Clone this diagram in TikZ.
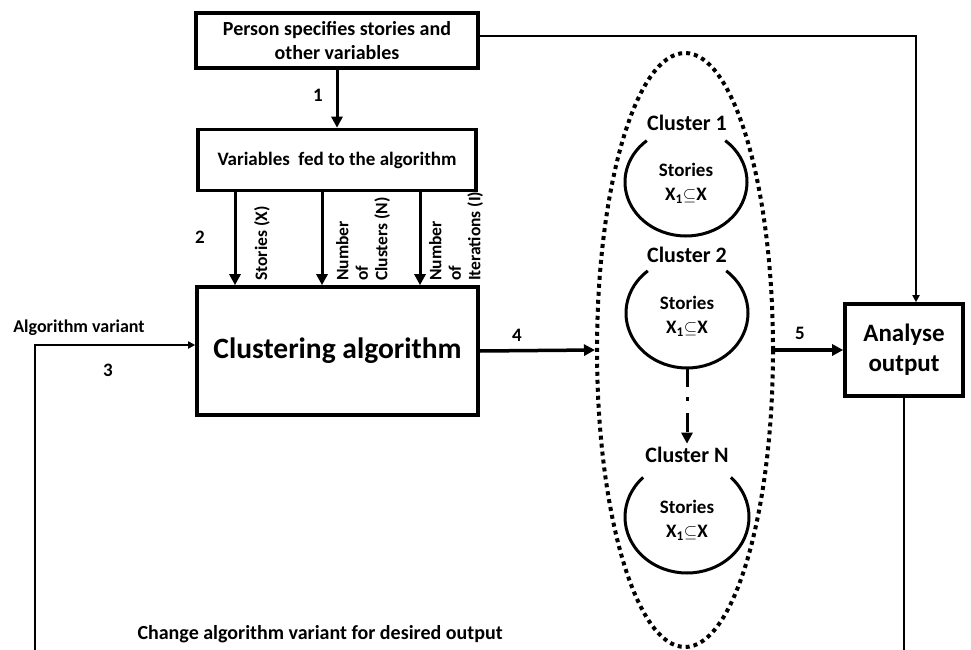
\documentclass[tikz,border=0pt]{standalone}
\usepackage{fontspec}
\setmainfont{Carlito}
\usetikzlibrary{arrows.meta,shapes.geometric,calc}
\begin{document}
\begin{tikzpicture}[x=1pt,y=-1pt,
  font=\bfseries,
  box/.style={draw,line width=3.6pt,fill=white,align=center,inner sep=2pt},
  bigarrow/.style={line width=3pt,-{Triangle[length=11pt,width=11pt]}},
  thinarrow/.style={line width=2pt,-{Triangle[length=7pt,width=7pt]}},
  num/.style={font=\bfseries\fontsize{19}{21}\selectfont},
  vlabel/.style={rotate=90,anchor=west,align=left,inner sep=0pt,
    font=\bfseries\fontsize{17.5}{19.5}\selectfont},
  ring/.style={line width=3pt},
  ctitle/.style={font=\bfseries\fontsize{22}{24}\selectfont},
  ctext/.style={align=center,font=\bfseries\fontsize{19}{24}\selectfont}]
\path[use as bounding box] (0,0) rectangle (971,650);

% main boxes
\node[box,minimum width=282,minimum height=55,font=\bfseries\fontsize{20}{24}\selectfont]
  (person) at (337,40.5) {Person specifies stories and\\other variables};
\node[box,minimum width=278,minimum height=61,font=\bfseries\fontsize{19}{22}\selectfont]
  (vars) at (337,160) {Variables~~fed to the algorithm};
\node[box,minimum width=281,minimum height=128,font=\bfseries\fontsize{29.5}{34}\selectfont]
  (clus) at (337.5,351) {Clustering algorithm};
\node[box,minimum width=118,minimum height=92,font=\bfseries\fontsize{25}{30}\selectfont]
  (analyse) at (904,350) {Analyse\\output};

% dotted group of clusters
\node[ellipse,draw,line width=4pt,dash pattern=on 4pt off 4pt,
  minimum width=176,minimum height=594,inner sep=0pt] (group) at (685,350) {};

% clusters
\node[ctitle] (t1) at (687,123) {Cluster 1};
\node[ctitle] (t2) at (687,255) {Cluster 2};
\node[ctitle] (tN) at (687,455) {Cluster N};
\node[ellipse,minimum width=122,minimum height=108,inner sep=0pt] (c1) at (686,182) {};
\node[ellipse,minimum width=122,minimum height=110,inner sep=0pt] (c2) at (687,313) {};
\node[ellipse,minimum width=122,minimum height=112,inner sep=0pt] (cN) at (687,517) {};
\draw[ring] ([shift={(-50:61 and 54)}]c1.center) arc[start angle=-50,end angle=230,x radius=61,y radius=54];
\draw[ring] ([shift={(-50:61 and 55)}]c2.center) arc[start angle=-50,end angle=230,x radius=61,y radius=55];
\draw[ring] ([shift={(-45:62 and 56)}]cN.center) arc[start angle=-45,end angle=225,x radius=62,y radius=56];
\node[ctext] (s1) at (686,183) {Stories\\X\textsubscript{1}$\subseteq$X};
\node[ctext] (s2) at (687,316) {Stories\\X\textsubscript{1}$\subseteq$X};
\node[ctext] (sN) at (687,520) {Stories\\X\textsubscript{1}$\subseteq$X};
\draw[line width=3pt,dash pattern=on 19pt off 10pt on 4pt off 12pt,
  -{Triangle[length=11pt,width=11pt]}] (c2.south) -- (tN.north);

% column positions of the inputs
\coordinate (ax1) at (235,0);
\coordinate (ax2) at (322,0);
\coordinate (ax3) at (420,0);
\coordinate (fb) at (35,650);
\coordinate (fbr) at (904,650);

% connectors
\draw[bigarrow] (person.south) -- (vars.north);
\draw[bigarrow] (vars.south -| ax1) -- (clus.north -| ax1);
\draw[bigarrow] (vars.south -| ax2) -- (clus.north -| ax2);
\draw[bigarrow] (vars.south -| ax3) -- (clus.north -| ax3);
\draw[thinarrow] (fb) |- ([yshift=6pt]clus.west);
\draw[bigarrow,line width=3.5pt] (clus.east) -- (group.west);
\draw[bigarrow,line width=3.5pt] (group.east) -- (analyse.west);
\draw[thinarrow] ([yshift=4pt]person.east) -| ([xshift=12pt]analyse.north);
\draw[line width=2pt] (analyse.south) -- (fbr);

% labels
\node[num] (n1) at (318,95) {1};
\node[num] (n2) at (200,237) {2};
\node[num] (n3) at (108,370) {3};
\node[num] (n4) at (517,335) {4};
\node[num] (n5) at (800,333) {5};
\node[font=\bfseries\fontsize{18}{20}\selectfont] (alg) at (79,328) {Algorithm variant};
\node[vlabel] (lx) at (262,281) {Stories (X)};
\node[vlabel] (ln) at (363,281) {Number\\of\\Clusters (N)};
\node[vlabel] (li) at (456,281) {Number\\of\\Iterations (I)};
\node[font=\bfseries\fontsize{20}{22}\selectfont,anchor=west] (change) at (134,634)
  {Change algorithm variant for desired output};
\end{tikzpicture}
\end{document}
